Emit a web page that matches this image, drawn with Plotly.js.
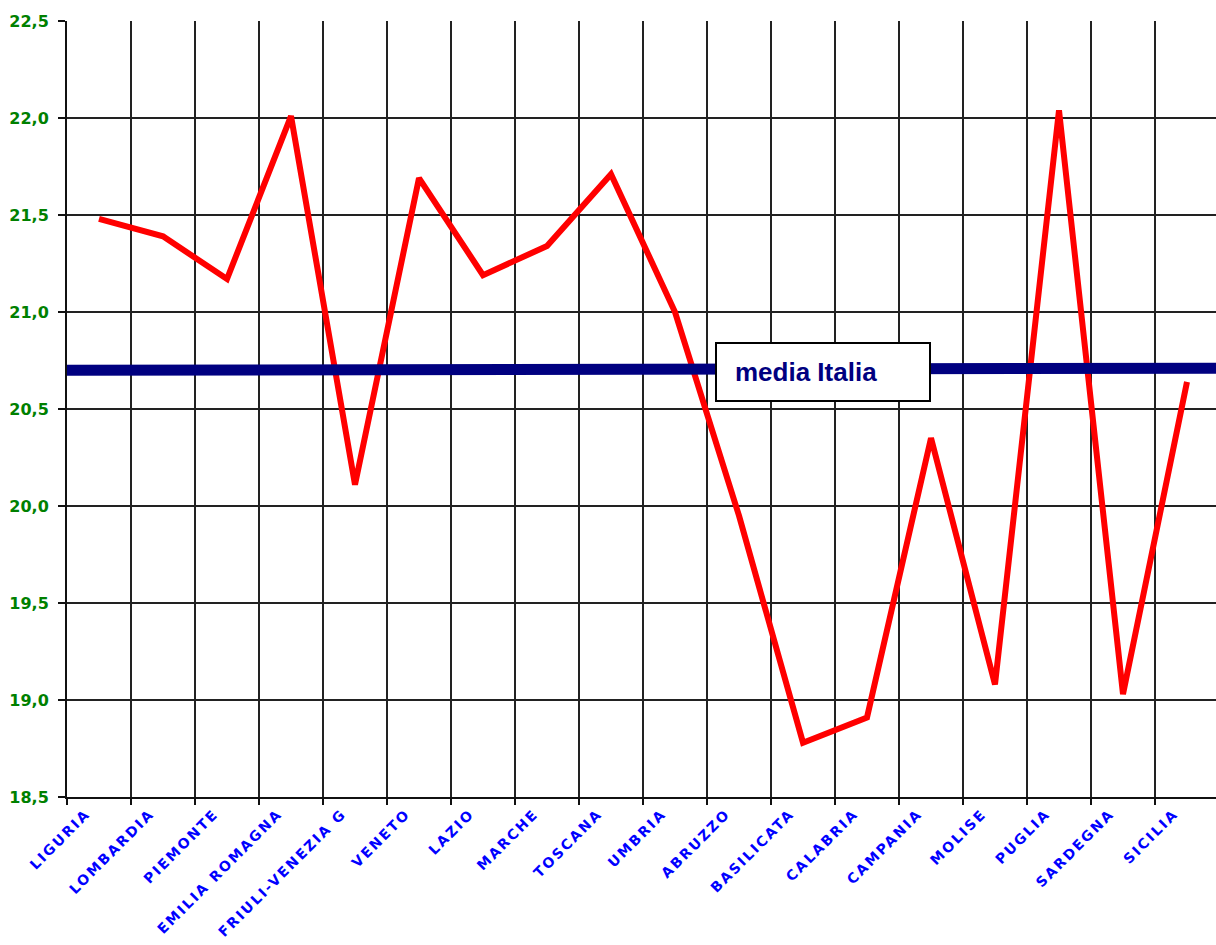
<!DOCTYPE html>
<html>
<head>
<meta charset="utf-8">
<script src="https://cdn.plot.ly/plotly-3.0.1.min.js"></script>
<style>
  html, body { margin: 0; padding: 0; overflow: hidden; background: #fff; }
  #chart { width: 1222px; height: 945px; }
  .x2tick text { letter-spacing: 2.1px; }
</style>
</head>
<body>
<div id="chart"></div>
<script>
// Regions (categories)
var regioni = ["LIGURIA", "LOMBARDIA", "PIEMONTE", "EMILIA ROMAGNA", "FRIULI-VENEZIA G",
  "VENETO", "LAZIO", "MARCHE", "TOSCANA", "UMBRIA", "ABRUZZO", "BASILICATA",
  "CALABRIA", "CAMPANIA", "MOLISE", "PUGLIA", "SARDEGNA", "SICILIA"];
// Values per region
var valori = [21.48, 21.39, 21.17, 22.01, 20.11, 21.69, 21.19, 21.34, 21.71, 21.00,
  19.95, 18.78, 18.91, 20.35, 19.08, 22.04, 19.03, 20.64];
// Italian average line (start, end)
var mediaItalia = [20.70, 20.71];
var mediaLabel = "media Italia";
// Y tick values and labels
var yTickVals = [18.5, 19.0, 19.5, 20.0, 20.5, 21.0, 21.5, 22.0, 22.5];
var yTickText = ["18,5", "19,0", "19,5", "20,0", "20,5", "21,0", "21,5", "22,0", "22,5"];

var n = regioni.length;
var labelPos = regioni.map(function (_, i) { return i - 0.2; });

var traces = [
  {
    x: regioni, y: valori, xaxis: "x", yaxis: "y",
    type: "scatter", mode: "lines",
    line: { color: "#FF0000", width: 6 },
    hoverinfo: "skip", showlegend: false
  },
  {
    x: [-0.5, n - 0.5], y: mediaItalia, xaxis: "x2", yaxis: "y",
    type: "scatter", mode: "lines",
    line: { color: "#000080", width: 11 },
    hoverinfo: "skip", showlegend: false
  }
];

var layout = {
  width: 1222, height: 945,
  margin: { l: 67, r: 3, t: 21, b: 148, pad: 0 },
  paper_bgcolor: "#ffffff", plot_bgcolor: "#ffffff",
  showlegend: false,
  xaxis: {
    type: "category", categoryorder: "array", categoryarray: regioni,
    range: [-0.5, n - 0.5], tickson: "boundaries",
    showgrid: true, gridcolor: "#222222", gridwidth: 2,
    showline: true, linecolor: "#111111", linewidth: 2,
    ticks: "outside", ticklen: 6, tickwidth: 2, tickcolor: "#111111",
    showticklabels: false, zeroline: false, fixedrange: true
  },
  xaxis2: {
    overlaying: "x", anchor: "y", side: "bottom",
    range: [-0.5, n - 0.5], type: "linear",
    tickmode: "array", tickvals: labelPos, ticktext: regioni,
    tickangle: -45, ticks: "", showgrid: false, showline: false, zeroline: false,
    ticklabelstandoff: 5, ticklabeloverflow: "allow",
    tickfont: { family: "DejaVu Sans, sans-serif", size: 14, color: "#0000FF", weight: "bold" },
    fixedrange: true
  },
  yaxis: {
    range: [18.5, 22.5],
    tickmode: "array", tickvals: yTickVals, ticktext: yTickText,
    showgrid: true, gridcolor: "#222222", gridwidth: 2,
    showline: true, linecolor: "#111111", linewidth: 2,
    ticks: "outside", ticklen: 7, tickwidth: 2, tickcolor: "#111111",
    ticklabelstandoff: 6, ticklabeloverflow: "allow",
    tickfont: { family: "DejaVu Sans, sans-serif", size: 16, color: "#008000", weight: "bold" },
    zeroline: false, fixedrange: true
  },
  annotations: [
    {
      xref: "x2", yref: "y", x: 11.31, y: 20.69,
      xanchor: "center", yanchor: "middle",
      text: mediaLabel, showarrow: false,
      align: "left", width: 176, height: 20, borderpad: 18,
      bgcolor: "#ffffff", bordercolor: "#000000", borderwidth: 2,
      font: { family: "Liberation Sans, Arial, sans-serif", size: 26, color: "#000080", weight: "bold" }
    }
  ]
};

Plotly.newPlot("chart", traces, layout, { staticPlot: true, displayModeBar: false });
</script>
</body>
</html>
